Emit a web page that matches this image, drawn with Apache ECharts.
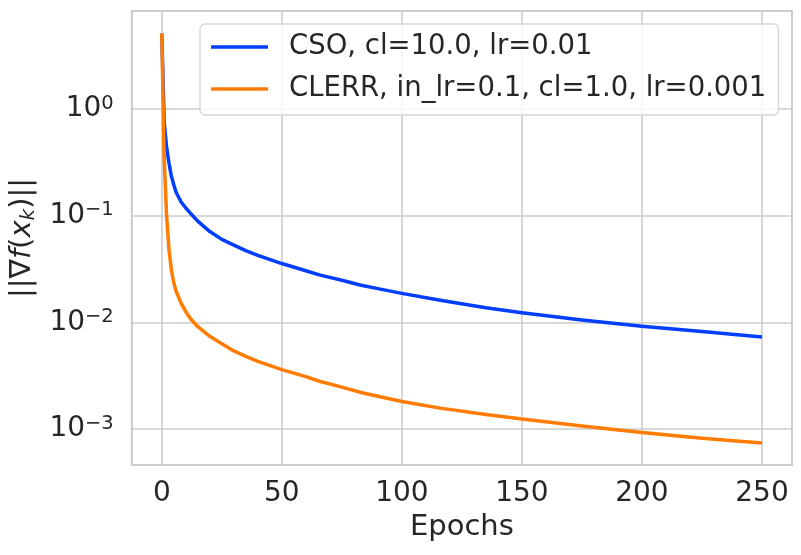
<!DOCTYPE html>
<html>
<head>
<meta charset="utf-8">
<script src="https://cdn.jsdelivr.net/npm/echarts@6/dist/echarts.min.js"></script>
<style>
  html, body { margin: 0; padding: 0; background: #fff; }
  #chart { width: 801px; height: 555px; }
</style>
</head>
<body>
<div id="chart"></div>
<script>
'use strict';

/* values */
var epochs = [0, 1, 2, 3, 4, 5, 6, 8, 10, 12, 15, 20, 25, 30, 35, 40, 50, 60, 66, 75, 83, 90, 100, 116, 135, 150, 175, 200, 225, 250];
var csoGrad = [5.1, 0.75, 0.44, 0.31, 0.235, 0.195, 0.165, 0.135, 0.118, 0.105, 0.089, 0.071, 0.060, 0.053, 0.047, 0.0425, 0.0356, 0.0305, 0.0277, 0.0248, 0.0223, 0.0207, 0.0187, 0.0161, 0.0137, 0.0123, 0.0105, 0.0092, 0.0082, 0.0073];
var clerrGrad = [5.1, 0.35, 0.10, 0.048, 0.031, 0.0235, 0.0195, 0.0152, 0.0126, 0.0108, 0.0091, 0.0074, 0.0063, 0.0054, 0.0048, 0.0043, 0.0036, 0.0031, 0.00279, 0.00247, 0.0022, 0.00203, 0.00181, 0.00157, 0.00137, 0.00124, 0.00107, 0.00093, 0.00082, 0.00074];
var seriesNames = ['CSO, cl=10.0, lr=0.01', 'CLERR, in_lr=0.1, cl=1.0, lr=0.001'];
var xTicks = [0, 50, 100, 150, 200, 250];
var yTicks = [1e-3, 1e-2, 1e-1, 1];

function pairs(ys) {
  return epochs.map(function (x, i) { return [x, ys[i]]; });
}

var txt = '#262626';
var font = 'DejaVu Sans';

var myChart = echarts.init(document.getElementById('chart'), null, { renderer: 'canvas' });
var option = {
  animation: false,
  backgroundColor: '#ffffff',
  textStyle: { fontFamily: font, color: txt },
  grid: {
    left: 131, right: 9, top: 11, bottom: 90,
    show: true, borderColor: '#cccccc', borderWidth: 2
  },
  legend: {
    orient: 'vertical',
    left: 200, top: 24,
    padding: [8, 12, 11, 11],
    itemGap: 12,
    icon: 'rect',
    itemWidth: 57, itemHeight: 3.5,
    backgroundColor: 'rgba(255,255,255,0.8)',
    borderColor: '#d6d6d6', borderWidth: 1.3, borderRadius: 5,
    textStyle: { fontSize: 27.5, color: txt, fontFamily: font, lineHeight: 30, padding: [0, 0, 0, 16] }
  },
  xAxis: {
    type: 'value',
    min: -12.5, max: 262.5,
    name: 'Epochs', nameLocation: 'middle', nameGap: 48,
    nameTextStyle: { fontSize: 29, color: txt, fontFamily: font },
    axisLine: { show: false },
    axisTick: { show: false },
    axisLabel: {
      fontSize: 28, color: txt, fontFamily: font, margin: 15,
      showMinLabel: false, showMaxLabel: false,
      formatter: function (v) { return xTicks.indexOf(v) >= 0 ? String(v) : ''; }
    },
    splitLine: { show: true, lineStyle: { color: '#cccccc', width: 1.6 } }
  },
  yAxis: {
    type: 'log', logBase: 10,
    min: 4.6e-4, max: 8.3,
    name: '||∇{i|f}({i|x}{sub|k})||', nameLocation: 'middle', nameGap: 87,
    nameTextStyle: {
      fontSize: 29, color: txt, fontFamily: font,
      rich: {
        i: { fontSize: 29, fontStyle: 'italic', color: txt, fontFamily: font },
        sub: { fontSize: 20, fontStyle: 'italic', color: txt, fontFamily: font, padding: [12, 0, 0, 0] }
      }
    },
    axisLine: { show: false },
    axisTick: { show: false },
    axisLabel: {
      margin: 18, color: txt, fontFamily: font,
      showMinLabel: false, showMaxLabel: false,
      formatter: function (v) {
        for (var k = 0; k < yTicks.length; k++) {
          if (Math.abs(v - yTicks[k]) / yTicks[k] < 1e-6) {
            var e = Math.round(Math.log10(yTicks[k]));
            return '{b|10}{s|' + (e < 0 ? '\u2212' + (-e) : e) + '}';
          }
        }
        return '';
      },
      rich: {
        b: { fontSize: 28, color: txt, fontFamily: font },
        s: { fontSize: 19.5, color: txt, fontFamily: font, padding: [0, 0, 11, 0] }
      }
    },
    splitLine: { show: true, lineStyle: { color: '#cccccc', width: 1.6 } }
  },
  series: [
    {
      name: seriesNames[0], type: 'line', data: pairs(csoGrad),
      symbol: 'none', smooth: false,
      lineStyle: { color: '#023eff', width: 3.5, join: 'round' }, itemStyle: { color: '#023eff' }
    },
    {
      name: seriesNames[1], type: 'line', data: pairs(clerrGrad),
      symbol: 'none', smooth: false,
      lineStyle: { color: '#ff7c00', width: 3.5, join: 'round' }, itemStyle: { color: '#ff7c00' }
    }
  ]
};
myChart.setOption(option);
</script>
</body>
</html>
